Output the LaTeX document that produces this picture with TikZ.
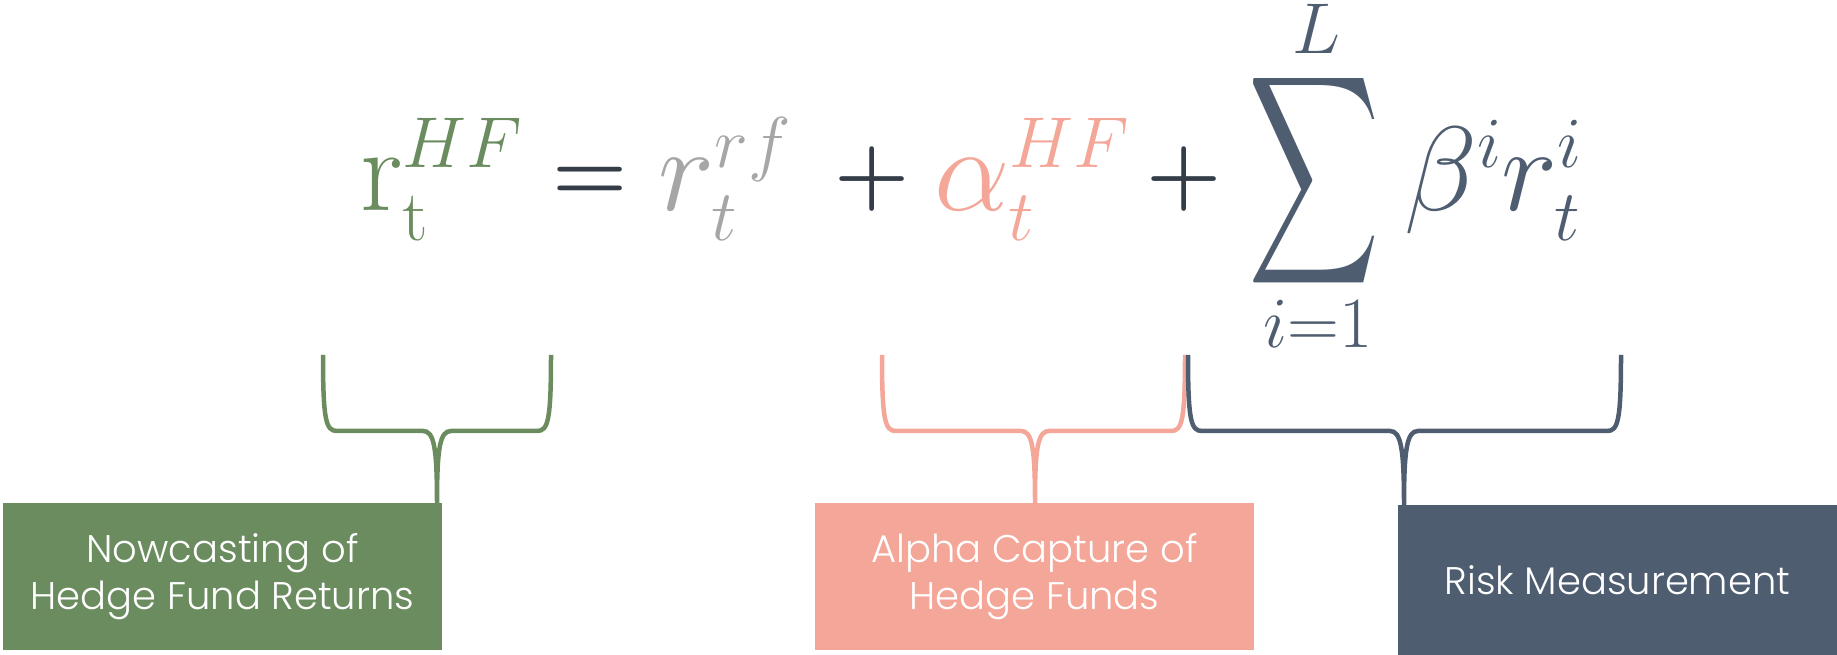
\RequirePackage{fix-cm}
\documentclass[tikz,border=0pt]{standalone}
\usepackage{exscale}
\usepackage[no-math]{fontspec}
\usepackage{graphicx}
\usetikzlibrary{calc,positioning}
\newfontfamily\boxfont{Poppins Light}
\renewcommand\defaultscriptratio{.6}

\definecolor{hfgreen}{HTML}{6A8C5E}
\definecolor{hfpink}{HTML}{F4A699}
\definecolor{hfslate}{HTML}{4E5D70}
\definecolor{hfgrey}{HTML}{A6A6A6}
\definecolor{hfink}{HTML}{343C48}

\tikzset{
  eqn/.style={inner sep=0pt, anchor=base west, font=\fontsize{120}{130}\selectfont},
  oper/.style={inner sep=0pt, anchor=base, text=hfink, font=\fontsize{86}{96}\selectfont\boldmath},
  lim/.style={inner sep=0pt, anchor=base, text=hfslate, font=\fontsize{72}{74}\selectfont},
  labelbox/.style={minimum width=439pt, minimum height=147pt, inner sep=0pt,
    text=white, align=center, font=\boxfont\fontsize{38.5}{47}\selectfont},
  curly/.style={line width=4.5pt, draw=#1},
}

\begin{document}
\begin{tikzpicture}[x=1pt,y=1pt]
        \useasboundingbox (0,0) rectangle (1837,655);
        \node[eqn, text=hfgreen] (lhs) at (360,444) {$\mathrm{r}_{\mathrm{t}}^{HF}$};
        \node[oper] (eq) at (590,454) {$=$};
        \node[eqn, text=hfgrey] (riskfree) at (658,444) {$r_t^{rf}$};
        \node[oper] (plusa) at (872,454) {$+$};
        \node[eqn, text=hfpink] (alpha) at (934,444) {$\alpha_t^{HF}$};
        \node[oper] (plusb) at (1184,454) {$+$};
        \node[inner sep=0pt, text=hfslate] (sum) at (1314,474) {\fontsize{10}{12}\selectfont\scalebox{9.1}[14.6]{$\displaystyle\sum$}};
        \node[lim] (upper) at (1316,601) {$L$};
        \node[lim] (lower) at (1318,307) {$i{=}1$};
        \node[eqn, text=hfslate] (beta) at (1404,444) {$\beta^i r_t^i$};

        \node[labelbox, fill=hfgreen] (nowcast) at (222.5,78) {Nowcasting of\\Hedge Fund Returns};
        \node[labelbox, fill=hfpink] (alphacap) at (1034.5,78.5) {Alpha Capture of\\Hedge Funds};
        \node[labelbox, fill=hfslate, minimum height=150pt] (riskmeas) at (1617.5,75) {Risk Measurement};

        \coordinate (gl) at (323,300); \coordinate (gr) at (551,300);
        \coordinate (gt) at ([xshift=214.5pt]nowcast.north);
        \coordinate (pl) at (882,300); \coordinate (pr) at (1185,300);
        \coordinate (ptip) at ([xshift=0.5pt]alphacap.north);
        \coordinate (sl) at (1188,300); \coordinate (sr) at (1621,300);
        \coordinate (st) at ([xshift=-213.5pt]riskmeas.north);
        \foreach \l/\t/\r/\c in {gl/gt/gr/hfgreen, pl/ptip/pr/hfpink, sl/st/sr/hfslate}
          \draw[curly=\c] (\l) .. controls +(0,-66) and +(-11,0) .. ($(\l)+(14,-76)$)
            -- ($(\t |- \l)+(-14,-76)$) .. controls +(11,0) and +(0,56) .. (\t)
            (\r) .. controls +(0,-66) and +(11,0) .. ($(\r)+(-14,-76)$)
            -- ($(\t |- \r)+(14,-76)$) .. controls +(-11,0) and +(0,56) .. (\t);
\end{tikzpicture}
\end{document}
